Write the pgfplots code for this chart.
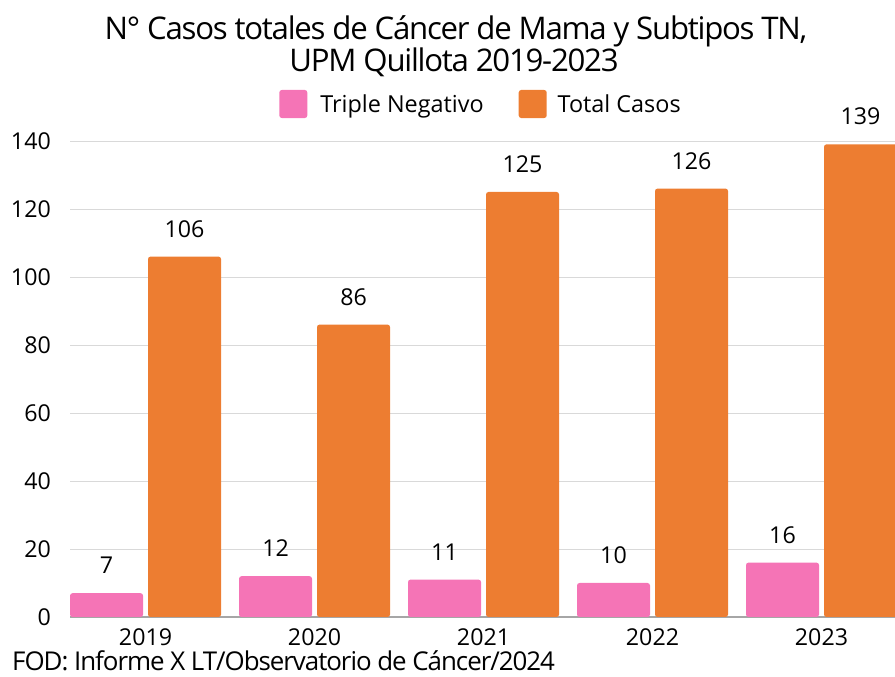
\documentclass[border=0pt]{standalone}
\usepackage{fontspec}
\setmainfont{Open Sans}
\newfontfamily\titlefont[LetterSpace=-4]{Open Sans}
\usepackage{pgfplots}
\usepackage{pgfplotstable}
\pgfplotsset{compat=1.18}
\definecolor{tnpink}{HTML}{F574B6}
\definecolor{totorange}{HTML}{ED7D31}
\definecolor{gridgray}{HTML}{D9D9D9}
\definecolor{axgray}{HTML}{A6A6A6}

\pgfplotstableread{
x tn total
0 7 106
1 12 86
2 11 125
3 10 126
4 16 139
}\datatable

\begin{document}
\begin{tikzpicture}[x=1bp,y=1bp]
\path[use as bounding box] (0,0) rectangle (895,677);
\begin{axis}[
  at={(70bp,60bp)}, anchor=south west,
  scale only axis, width=825bp, height=476bp,
  xmin=-0.447, xmax=4.435, ymin=0, ymax=140,
  ytick={0,20,...,140},
  xtick={0,1,2,3,4}, xticklabels={2019,2020,2021,2022,2023},
  axis x line*=bottom, axis y line*=left,
  y axis line style={draw=none},
  x axis line style={draw=axgray, line width=1.2bp, -},
  major tick length=0pt,
  xtick style={draw=none}, ytick style={draw=none},
  ymajorgrids, grid style={draw=gridgray, line width=0.9bp},
  ticklabel style={font=\fontsize{23.3}{23.3}\selectfont, inner sep=0pt},
  /pgf/number format/assume math mode=true,
  yticklabel shift=19bp,
  xticklabel shift=11bp,
  ybar, bar width=73bp,
  clip=false,
  nodes near coords,
  every node near coord/.append style={font=\fontsize{23.3}{23.3}\selectfont, inner sep=0pt, yshift=19bp, black},
  legend columns=2,
  legend style={draw=none, fill=none, at={(0.497,1.0777)}, anchor=center,
    font=\fontsize{23.5}{23.5}\selectfont,
    /tikz/every even column/.append style={column sep=35bp},
    nodes={inner sep=0pt, text depth=0pt}},
  legend image code/.code={\fill[#1, draw=none] (0bp,-14bp) rectangle (28bp,14bp);},
  /pgfplots/legend cell align=left,
]
\addplot[fill=tnpink, draw=none, bar shift=-39bp, rounded corners=2.5bp] table[x=x, y=tn] {\datatable};
\addlegendentry{\hspace{13bp}Triple Negativo}
\addplot[fill=totorange, draw=none, bar shift=39bp, rounded corners=2.5bp] table[x=x, y=total] {\datatable};
\addlegendentry{\hspace{11bp}Total Casos}
\end{axis}
\node[anchor=base, inner sep=0pt, font=\titlefont\fontsize{31.3}{31.3}\selectfont] at (456,637) {N° Casos totales de Cáncer de Mama y Subtipos TN,};
\node[anchor=base, inner sep=0pt, font=\titlefont\fontsize{31.3}{31.3}\selectfont] at (454,605) {UPM Quillota 2019-2023};
\node[anchor=base west, inner sep=0pt, font=\titlefont\fontsize{26}{26}\selectfont] at (12,6) {FOD: Informe X LT/Observatorio de Cáncer/2024};
\end{tikzpicture}
\end{document}
